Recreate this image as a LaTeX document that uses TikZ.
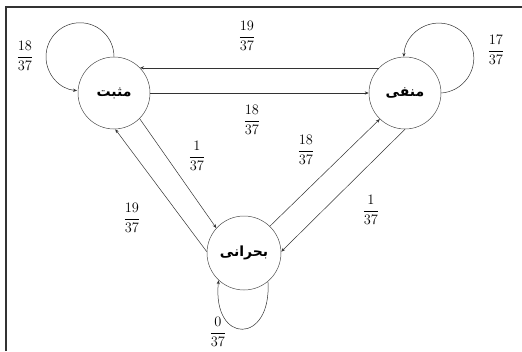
\documentclass[tikz,border=0pt]{standalone}
\usepackage{amsmath}
\usepackage{fontspec}
\usetikzlibrary{arrows.meta}
\newfontfamily\fa[Script=Arabic]{DejaVu Sans}
\TeXXeTstate=1
\begin{document}
\begin{tikzpicture}[x=1pt,y=-1pt,
  state/.style={draw=black!70,line width=0.5pt,circle,minimum size=72pt,inner sep=0pt,font=\fa\bfseries\fontsize{14}{16}\selectfont},
  edge/.style={draw=black!80,line width=0.5pt,-{Stealth[length=4pt,width=3.2pt]}},
  lab/.style={inner sep=0pt,font=\fontsize{15}{17}\selectfont}]
\useasboundingbox (0,0) rectangle (522,351);
\draw[black!80,line width=1.3pt] (6,351) -- (6,7) -- (522,7);
\node[state] (pos) at (114,93) {\beginR مثبت\endR};
\node[state] (neg) at (405,93) {\beginR منفی\endR};
\node[state,minimum size=74pt] (cri) at (244,253) {\beginR بحرانی\endR};
% straight connectors
\draw[edge] (pos.east) -- (neg.west);
\draw[edge] (neg.136) -- (pos.44);
\draw[edge] (pos.-45) -- (cri.138);
\draw[edge] (cri.178) -- (pos.-88);
\draw[edge] (cri.46) -- (neg.226);
\draw[edge] (neg.-90) -- (cri.2);
% loops
\draw[edge] (pos.north) arc[start angle=0,end angle=265,radius=34pt];
\draw[edge] (neg.east) arc[start angle=-86,end angle=178,radius=35pt];
\draw[edge] (cri.-50) .. controls (272,345) and (212,345) .. (cri.-133);
% labels
\node[lab] (l1) at (25,56) {$\dfrac{18}{37}$};
\node[lab] (l2) at (496,50) {$\dfrac{17}{37}$};
\node[lab] (l3) at (247,36) {$\dfrac{19}{37}$};
\node[lab] (l4) at (252,120) {$\dfrac{18}{37}$};
\node[lab] (l5) at (197,156) {$\dfrac{1}{37}$};
\node[lab] (l6) at (132,218) {$\dfrac{19}{37}$};
\node[lab] (l7) at (306,150) {$\dfrac{18}{37}$};
\node[lab] (l8) at (371,210) {$\dfrac{1}{37}$};
\node[lab] (l9) at (218,332) {$\dfrac{0}{37}$};
\end{tikzpicture}
\end{document}
